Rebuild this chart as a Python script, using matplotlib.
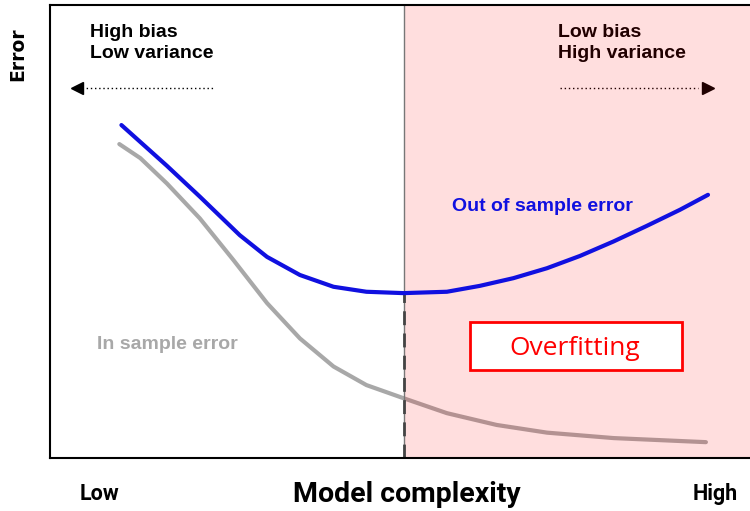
import matplotlib.pyplot as plt
from matplotlib.patches import Rectangle

# model complexity (arbitrary units, 0..10) and error values
out_x = [1.02, 1.67, 2.14, 2.71, 3.10, 3.57, 4.05, 4.52, 5.05, 5.67, 6.14, 6.62, 7.10, 7.57, 8.05, 8.52, 9.00, 9.40]
out_err = [7.35, 6.45, 5.77, 4.92, 4.44, 4.04, 3.78, 3.67, 3.64, 3.67, 3.80, 3.97, 4.19, 4.46, 4.78, 5.12, 5.48, 5.81]

in_x = [0.99, 1.29, 1.67, 2.14, 2.62, 3.10, 3.57, 4.05, 4.52, 5.05, 5.67, 6.38, 7.10, 8.05, 9.37]
in_err = [6.93, 6.62, 6.06, 5.29, 4.37, 3.42, 2.64, 2.02, 1.61, 1.32, 0.99, 0.73, 0.56, 0.44, 0.35]

split_x = 5.05
split_y = 3.64

fig = plt.figure(figsize=(7.5, 5.11), dpi=100)
ax = fig.add_axes([0.0667, 0.1037, 0.9333, 0.8865])
ax.set_xlim(0, 10)
ax.set_ylim(0, 10)
ax.set_xticks([])
ax.set_yticks([])
ax.spines['right'].set_visible(False)
for s in ['left', 'top', 'bottom']:
    ax.spines[s].set_linewidth(1.5)
    ax.spines[s].set_zorder(10)

# curves
ax.plot(in_x, in_err, color='#a8a8a8', lw=3, solid_capstyle='round', solid_joinstyle='round', zorder=2)
ax.plot(out_x, out_err, color='#1010e0', lw=3, solid_capstyle='round', solid_joinstyle='round', zorder=5)

# overfitting zone
ax.axvspan(split_x, 10, color='red', alpha=0.13, lw=0, zorder=4)
ax.axvline(split_x, color='#777777', lw=1, zorder=4)
ax.vlines(split_x, 0, split_y, colors='#444444', lw=2, linestyles=(0, (5, 3)), zorder=4)

# bias / variance arrows
ax.plot([0.46, 2.36], [8.17, 8.17], color='black', lw=1, ls=(0, (1, 2)), zorder=3)
ax.plot([0.38], [8.17], marker='<', color='black', ms=9, zorder=3)
ax.plot([7.29, 9.25], [8.17, 8.17], color='black', lw=1, ls=(0, (1, 2)), zorder=3)
ax.plot([9.40], [8.17], marker='>', color='black', ms=9, zorder=3)

tf = dict(family='Liberation Sans', fontweight='bold', fontsize=14)
ax.text(0.57, 9.16, 'High bias\nLow variance', va='center', ha='left', linespacing=1.35, zorder=3, **tf)
ax.text(7.26, 9.16, 'Low bias\nHigh variance', va='center', ha='left', linespacing=1.35, zorder=3, **tf)

ax.text(5.74, 5.56, 'Out of sample error', color='#1010e0', va='center', ha='left', zorder=6, **tf)
ax.text(0.67, 2.5, 'In sample error', color='#a8a8a8', va='center', ha='left', zorder=3, **tf)

ax.add_patch(Rectangle((6.0, 1.94), 3.03, 1.06, fc='white', ec='red', lw=2, zorder=6))
ax.text(7.5, 2.41, 'Overfitting', color='red', fontsize=19, family='Open Sans',
        va='center', ha='center', zorder=7)

# axis labels
fig.text(0.024, 0.894, 'Error', rotation=90, ha='center', va='center',
         family='DejaVu Sans', fontweight='heavy', fontsize=13.5)
fig.text(0.543, 0.033, 'Model complexity', ha='center', va='center',
         family='Roboto', fontweight='bold', fontsize=20.5)
fig.text(0.133, 0.033, 'Low', ha='center', va='center', family='Roboto', fontweight='bold', fontsize=15.5)
fig.text(0.953, 0.033, 'High', ha='center', va='center', family='Roboto', fontweight='bold', fontsize=15.5)

fig.savefig('out.png', dpi=100)
